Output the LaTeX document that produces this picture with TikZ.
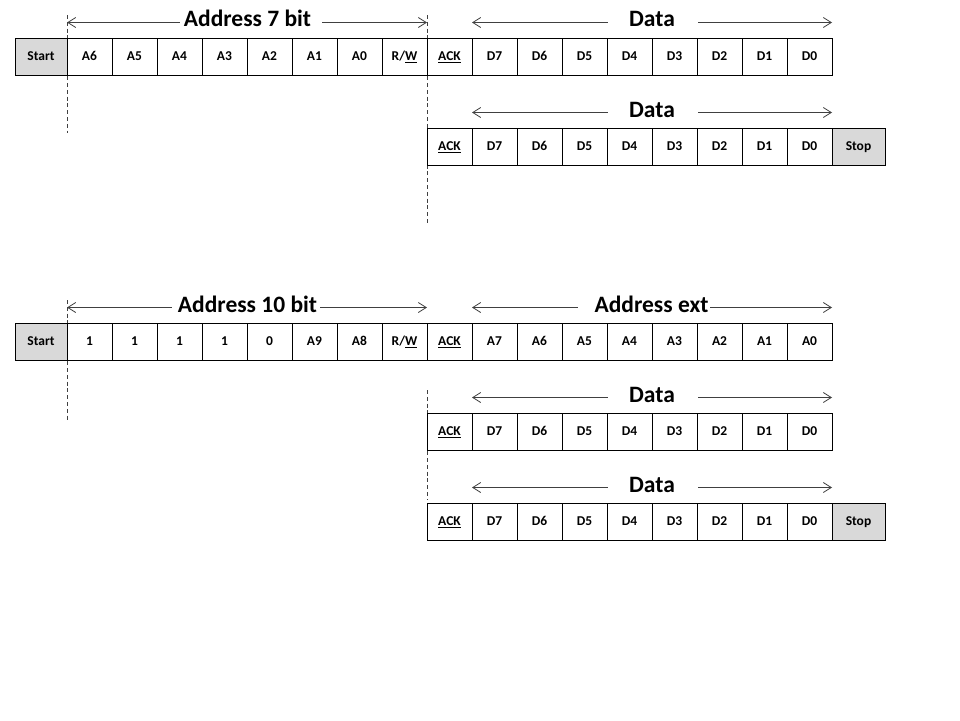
\documentclass[tikz,border=0pt]{standalone}
\usepackage{fontspec}
\setmainfont{Carlito}
\usetikzlibrary{arrows.meta}
\definecolor{cellgray}{HTML}{D9D9D9}
\begin{document}
\begin{tikzpicture}[x=1pt,y=-1pt,
  cell/.style={draw=black,line width=0.8pt,minimum width=45pt,minimum height=37pt,inner sep=0pt,text height=9pt,text depth=1pt,font=\fontsize{13.5}{13.5}\selectfont\bfseries},
  endcell/.style={cell,fill=cellgray,minimum width=52pt},
  dashline/.style={draw=black!75,line width=0.8pt,dash pattern=on 4pt off 2.8pt},
  arrl/.style={draw=black!75,line width=0.8pt,{Straight Barb[length=8pt,width=10pt]}-},
  arrr/.style={draw=black!75,line width=0.8pt,-{Straight Barb[length=8pt,width=10pt]}},
  lab/.style={anchor=base,inner sep=0pt,font=\fontsize{23.5}{23.5}\selectfont\bfseries}]
\useasboundingbox[fill=white] (0,0) rectangle (960,720);

% ---------- 7-bit addressing ----------
% dashed guides
\coordinate (d1a) at (67,15);  \coordinate (d1b) at (67,133);
\coordinate (d2a) at (427,15); \coordinate (d2b) at (427,225);
\draw[dashline] (d1a) -- (d1b);
\draw[dashline] (d2a) -- (d2b);

% row 1
\node[endcell] (r1s) at (41,56.5) {Start};
\foreach \t [count=\i] in {A6,A5,A4,A3,A2,A1,A0,{R/\underline{W}},\underline{ACK},D7,D6,D5,D4,D3,D2,D1,D0}
  \node[cell] (r1c\i) at ({67+45*(\i-1)+22.5},56.5) {\t};

% row 2
\foreach \t [count=\i] in {\underline{ACK},D7,D6,D5,D4,D3,D2,D1,D0}
  \node[cell] (r2c\i) at ({427+45*(\i-1)+22.5},146.5) {\t};
\node[endcell,minimum width=53pt] (r2e) at (858.5,146.5) {Stop};

% labels row 1
\node[lab] (l1a) at (247.5,27) {Address 7 bit};
\coordinate (a1L) at (67,22.5);  \coordinate (a1Lg) at (180,22.5);
\coordinate (a1Rg) at (322,22.5); \coordinate (a1R) at (427,22.5);
\draw[arrl] (a1L) -- (a1Lg);
\draw[arrr] (a1Rg) -- (a1R);

\node[lab] (l1d) at (652,27) {Data};
\coordinate (b1L) at (472,22.5);  \coordinate (b1Lg) at (608,22.5);
\coordinate (b1Rg) at (698,22.5); \coordinate (b1R) at (832,22.5);
\draw[arrl] (b1L) -- (b1Lg);
\draw[arrr] (b1Rg) -- (b1R);

\node[lab] (l2d) at (652,117) {Data};
\coordinate (b2L) at (472,112.5);  \coordinate (b2Lg) at (608,112.5);
\coordinate (b2Rg) at (698,112.5); \coordinate (b2R) at (832,112.5);
\draw[arrl] (b2L) -- (b2Lg);
\draw[arrr] (b2Rg) -- (b2R);

% ---------- 10-bit addressing ----------
\coordinate (d3a) at (67,300);  \coordinate (d3b) at (67,420);
\coordinate (d4a) at (427,390); \coordinate (d4b) at (427,500);
\draw[dashline] (d3a) -- (d3b);
\draw[dashline] (d4a) -- (d4b);

% row 3
\node[endcell] (r3s) at (41,341.5) {Start};
\foreach \t [count=\i] in {1,1,1,1,0,A9,A8,{R/\underline{W}},\underline{ACK},A7,A6,A5,A4,A3,A2,A1,A0}
  \node[cell] (r3c\i) at ({67+45*(\i-1)+22.5},341.5) {\t};

% row 4
\foreach \t [count=\i] in {\underline{ACK},D7,D6,D5,D4,D3,D2,D1,D0}
  \node[cell] (r4c\i) at ({427+45*(\i-1)+22.5},431.5) {\t};

% row 5
\foreach \t [count=\i] in {\underline{ACK},D7,D6,D5,D4,D3,D2,D1,D0}
  \node[cell] (r5c\i) at ({427+45*(\i-1)+22.5},521.5) {\t};
\node[endcell,minimum width=53pt] (r5e) at (858.5,521.5) {Stop};

% labels row 3
\node[lab] (l3a) at (247.5,312) {Address 10 bit};
\coordinate (a3L) at (67,307.5);  \coordinate (a3Lg) at (172,307.5);
\coordinate (a3Rg) at (320,307.5); \coordinate (a3R) at (427,307.5);
\draw[arrl] (a3L) -- (a3Lg);
\draw[arrr] (a3Rg) -- (a3R);

\node[lab] (l3e) at (651.5,312) {Address ext};
\coordinate (b3L) at (472,307.5);  \coordinate (b3Lg) at (578,307.5);
\coordinate (b3Rg) at (710,307.5); \coordinate (b3R) at (832,307.5);
\draw[arrl] (b3L) -- (b3Lg);
\draw[arrr] (b3Rg) -- (b3R);

\node[lab] (l4d) at (652,402) {Data};
\coordinate (b4L) at (472,397.5);  \coordinate (b4Lg) at (608,397.5);
\coordinate (b4Rg) at (698,397.5); \coordinate (b4R) at (832,397.5);
\draw[arrl] (b4L) -- (b4Lg);
\draw[arrr] (b4Rg) -- (b4R);

\node[lab] (l5d) at (652,492) {Data};
\coordinate (b5L) at (472,487.5);  \coordinate (b5Lg) at (608,487.5);
\coordinate (b5Rg) at (698,487.5); \coordinate (b5R) at (832,487.5);
\draw[arrl] (b5L) -- (b5Lg);
\draw[arrr] (b5Rg) -- (b5R);
\end{tikzpicture}
\end{document}
